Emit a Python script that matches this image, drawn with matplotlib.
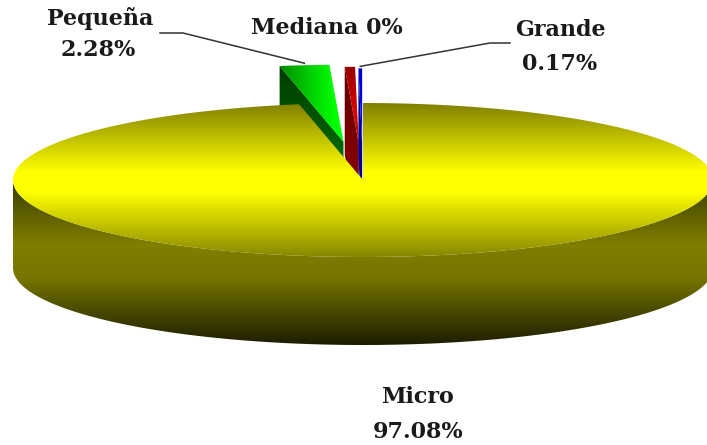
import numpy as np
import matplotlib
matplotlib.use("Agg")
import matplotlib.pyplot as plt
from matplotlib.patches import Polygon

# Share of companies by size
categories = ["Micro", "Pequeña", "Mediana", "Grande"]
shares = [97.08, 2.28, 0.47, 0.17]
label_decimals = [2, 2, 0, 2]
explode = [0.0, 0.5, 0.47, 0.45]

W, H = 707, 445
fig = plt.figure(figsize=(W / 100, H / 100), dpi=100)
ax = fig.add_axes([0, 0, 1, 1])
ax.set_xlim(0, W)
ax.set_ylim(H, 0)
ax.axis("off")

# 3-D pie geometry (screen units, y grows downward)
cx, cy, rx, ry, depth = 363.0, 180.0, 350.0, 77.0, 88.0

total = sum(shares)
bounds = np.concatenate([[0.0], np.cumsum(shares) / total * 2 * np.pi])


def pt(theta, off, r=1.0, z=0.0):
    return (cx + off[0] + rx * r * np.sin(theta),
            cy + off[1] - ry * r * np.cos(theta) + z)


def arc(t0, t1, off, z=0.0, n=200):
    ts = np.linspace(t0, t1, max(2, int(n * abs(t1 - t0) / np.pi) + 2))
    return [pt(t, off, z=z) for t in ts]


def grad_fill(poly, stops, zorder, axis="y"):
    """Fill a polygon with a linear gradient given as (position, rgb) stops."""
    patch = Polygon(poly, closed=True, facecolor="none", edgecolor="none")
    ax.add_patch(patch)
    pos = np.array([s[0] for s in stops], dtype=float)
    cols = np.array([s[1] for s in stops], dtype=float)
    if axis == "y":
        coords = np.arange(H) + 0.5
        rgb = np.stack([np.interp(coords, pos, cols[:, k]) for k in range(3)], axis=-1)
        img = np.repeat(rgb[:, None, :], 2, axis=1)
    else:
        coords = np.arange(W) + 0.5
        rgb = np.stack([np.interp(coords, pos, cols[:, k]) for k in range(3)], axis=-1)
        img = np.repeat(rgb[None, :, :], 2, axis=0)
    im = ax.imshow(img, extent=(0, W, H, 0), aspect="auto",
                   interpolation="bilinear", zorder=zorder)
    im.set_clip_path(patch)


def offset_of(i):
    tm = 0.5 * (bounds[i] + bounds[i + 1])
    e = explode[i]
    return (e * rx * np.sin(tm), -e * ry * np.cos(tm))


# colour schemes: top face stops, wall stops, gradient axis
top_styles = {
    0: ([(103, (0.50, 0.50, 0.0)), (172, (1.0, 1.0, 0.0)), (192, (1.0, 1.0, 0.0)),
         (258, (0.52, 0.52, 0.0))], "y"),
    1: ([(280, (0.0, 0.55, 0.0)), (315, (0.0, 0.85, 0.0)), (335, (0.0, 1.0, 0.0))], "x"),
    2: ([(60, (0.55, 0.0, 0.0)), (110, (0.85, 0.0, 0.0)), (170, (0.55, 0.0, 0.0))], "y"),
    3: ([(60, (0.0, 0.0, 0.75)), (110, (0.0, 0.0, 1.0)), (170, (0.0, 0.0, 0.7))], "y"),
}
wall_styles = {
    0: [(178, (0.22, 0.22, 0.0)), (245, (0.50, 0.50, 0.0)), (278, (0.46, 0.46, 0.0)),
        (345, (0.11, 0.11, 0.0))],
    1: [(60, (0.0, 0.22, 0.0)), (150, (0.0, 0.40, 0.0))],
    2: [(60, (0.35, 0.0, 0.0)), (150, (0.5, 0.0, 0.0))],
    3: [(60, (0.0, 0.0, 0.4)), (150, (0.0, 0.0, 0.6))],
}

# draw slices from back to front: the small exploded ones first
order = [1, 2, 3, 0]
z = 1
for i in order:
    t0, t1 = bounds[i], bounds[i + 1]
    off = offset_of(i)
    c = pt(0, off, r=0)
    # radial walls (only those facing the viewer)
    if np.sin(t0) < -1e-9:
        poly = [pt(t0, off), c, (c[0], c[1] + depth), pt(t0, off, z=depth)]
        grad_fill(poly, wall_styles[i], z)
    if np.sin(t1) > 1e-9:
        poly = [pt(t1, off), c, (c[0], c[1] + depth), pt(t1, off, z=depth)]
        grad_fill(poly, wall_styles[i], z)
    # front part of the curved outer wall
    a0, a1 = max(t0, np.pi / 2), min(t1, 3 * np.pi / 2)
    if a1 > a0:
        poly = arc(a0, a1, off) + arc(a0, a1, off, z=depth)[::-1]
        grad_fill(poly, wall_styles[i], z + 0.5)
    # top face
    poly = [c] + arc(t0, t1, off)
    stops, axis = top_styles[i]
    grad_fill(poly, stops, z + 1, axis=axis)
    z += 2

# labels
font = dict(family="DejaVu Serif", fontweight="bold", fontsize=16, color="#1a1a1a")


def fmt(i):
    return f"{shares[i]:.{label_decimals[i]}f}%"


ax.text(100, 18, categories[1], ha="center", va="center", **font, zorder=20)
ax.text(98, 50, fmt(1), ha="center", va="center", **font, zorder=20)
ax.text(327, 28, f"{categories[2]} {fmt(2)}", ha="center", va="center", **font, zorder=20)
ax.text(560, 30, categories[3], ha="center", va="center", **font, zorder=20)
ax.text(560, 64, fmt(3), ha="center", va="center", **font, zorder=20)
ax.text(418, 397, categories[0], ha="center", va="center", **font, zorder=20)
ax.text(418, 432, fmt(0), ha="center", va="center", **font, zorder=20)

# leader lines to the exploded slices
tm = 0.5 * (bounds[1] + bounds[2])
a = pt(tm, offset_of(1))
ax.plot([160, 183, a[0]], [33, 33, a[1] - 2], color="#333333", lw=1.1, zorder=19)
tm = 0.5 * (bounds[3] + bounds[4])
a = pt(tm, offset_of(3))
ax.plot([510, 490, a[0]], [43, 43, a[1] - 2], color="#333333", lw=1.1, zorder=19)

fig.savefig("out.png", dpi=100)
